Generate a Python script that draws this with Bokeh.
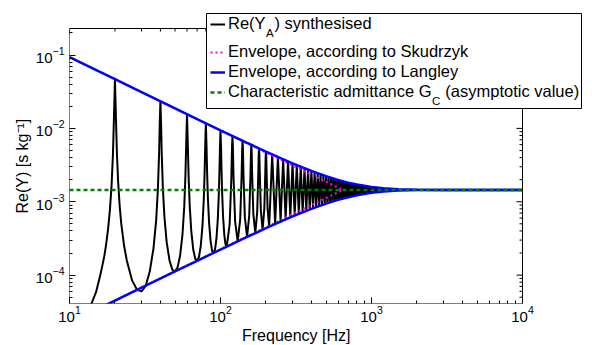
import math
from bokeh.plotting import figure
from bokeh.models import (Range1d, FixedTicker, Legend, LegendItem, Label, Title, BoxAnnotation)
from bokeh.embed import file_html
from bokeh.resources import INLINE

# ---------------- data ----------------
G_C = 1.45e-3  # characteristic admittance (asymptotic value)

# synthesised Re(Y_A), low-frequency part (resolved resonances)
synth_low_freq = [13, 14, 15, 16, 17, 17.5, 18, 18.5, 19, 19.4, 19.7, 20, 20.3, 20.6, 21, 21.5, 22, 23, 24, 26, 28, 30,
                  32, 34, 36, 37.5, 38.5, 39.2, 39.6, 40, 40.4, 40.8, 41.5, 42.5, 44, 46, 48, 50,
                  52, 54, 56, 57.5, 58.5, 59.2, 60, 60.8, 61.5, 62.5, 64, 66, 68, 70,
                  72, 74, 76, 77.5, 78.5, 79.2, 80, 80.8, 81.5, 82.5, 84, 86, 88, 90,
                  92, 94, 96, 97.5, 98.5, 99.2, 100, 100.8, 101.5, 102.5, 104, 106, 108, 110,
                  115, 118, 119.2, 120, 120.8, 122, 125, 130,
                  135, 138, 139.2, 140, 140.8, 142, 145, 150,
                  155, 158, 159.2, 160, 160.8, 162, 165, 170,
                  175, 178, 179.2, 180, 180.8, 182, 185, 190,
                  195, 198, 199.2, 200, 200.8, 202, 205, 210]
synth_low_re = [3.0e-5, 4.1e-5, 5.9e-5, 1.0e-4, 1.8e-4, 2.67e-4, 4.20e-4, 7.52e-4, 1.685e-3, 4.47e-3, 1.405e-2, 4.677e-2,
                1.422e-2, 4.69e-3, 1.849e-3, 8.69e-4, 5.12e-4, 2.49e-4, 1.555e-4, 8.4e-5, 6.3e-5, 6.0e-5,
                7.2e-5, 1.12e-4, 2.32e-4, 5.63e-4, 1.491e-3, 4.54e-3, 1.154e-2, 2.342e-2, 1.155e-2, 4.65e-3,
                1.591e-3, 6.34e-4, 2.82e-4, 1.568e-4, 1.186e-4, 1.121e-4,
                1.283e-4, 1.835e-4, 3.57e-4, 8.37e-4, 2.097e-3, 5.51e-3, 1.564e-2, 5.56e-3, 2.174e-3, 9.02e-4,
                4.05e-4, 2.23e-4, 1.669e-4, 1.568e-4,
                1.765e-4, 2.49e-4, 4.75e-4, 1.083e-3, 2.546e-3, 5.78e-3, 1.175e-2, 5.78e-3, 2.6e-3, 1.14e-3,
                5.21e-4, 2.875e-4, 2.14e-4, 2.01e-4,
                2.236e-4, 3.13e-4, 5.87e-4, 1.295e-3, 2.846e-3, 5.67e-3, 9.43e-3, 5.65e-3, 2.878e-3, 1.342e-3,
                6.29e-4, 3.5e-4, 2.6e-4, 2.45e-4,
                4.96e-4, 2.103e-3, 5.50e-3, 7.885e-3, 5.47e-3, 2.139e-3, 5.36e-4, 2.883e-4,
                5.74e-4, 2.262e-3, 5.18e-3, 6.786e-3, 5.15e-3, 2.289e-3, 6.12e-4, 3.31e-4,
                6.49e-4, 2.375e-3, 4.86e-3, 5.966e-3, 4.84e-3, 2.393e-3, 6.85e-4, 3.735e-4,
                7.19e-4, 2.449e-3, 4.56e-3, 5.33e-3, 4.54e-3, 2.461e-3, 7.53e-4, 4.15e-4,
                7.86e-4, 2.49e-3, 4.25e-3, 4.826e-3, 4.24e-3, 2.49e-3, 8.13e-4, 4.56e-4]

# dense part: resonance peaks and anti-resonance troughs
peak_freq = [220, 240, 260, 280, 300, 320, 340, 360, 380, 400, 420, 440, 460, 480, 500, 520, 540, 560, 580, 600,
             620, 640, 660, 680, 700, 720, 740, 760, 780, 800, 820, 840, 860, 880, 900, 920, 940, 960, 980, 1000,
             1020, 1040, 1060, 1080, 1100, 1120, 1140, 1160, 1180, 1200, 1220, 1240, 1260, 1280, 1300, 1320,
             1340, 1360, 1380, 1400, 1420, 1440, 1460, 1480, 1500, 1520, 1540, 1560, 1580]
peak_re = [4.415e-3, 4.076e-3, 3.791e-3, 3.548e-3, 3.339e-3, 3.159e-3, 3.001e-3, 2.863e-3, 2.740e-3, 2.631e-3,
           2.534e-3, 2.446e-3, 2.367e-3, 2.296e-3, 2.231e-3, 2.173e-3, 2.119e-3, 2.070e-3, 2.026e-3, 1.985e-3,
           1.947e-3, 1.912e-3, 1.880e-3, 1.851e-3, 1.824e-3, 1.799e-3, 1.775e-3, 1.754e-3, 1.734e-3, 1.715e-3,
           1.698e-3, 1.682e-3, 1.667e-3, 1.653e-3, 1.640e-3, 1.628e-3, 1.616e-3, 1.606e-3, 1.596e-3, 1.587e-3,
           1.578e-3, 1.570e-3, 1.563e-3, 1.556e-3, 1.549e-3, 1.543e-3, 1.537e-3, 1.532e-3, 1.527e-3, 1.522e-3,
           1.518e-3, 1.513e-3, 1.510e-3, 1.506e-3, 1.502e-3, 1.499e-3, 1.496e-3, 1.4935e-3, 1.491e-3, 1.488e-3,
           1.486e-3, 1.484e-3, 1.482e-3, 1.480e-3, 1.478e-3, 1.476e-3, 1.475e-3, 1.473e-3, 1.472e-3]
trough_freq = [230, 250, 270, 290, 310, 330, 350, 370, 390, 410, 430, 450, 470, 490, 510, 530, 550, 570, 590, 610,
               630, 650, 670, 690, 710, 730, 750, 770, 790, 810, 830, 850, 870, 890, 910, 930, 950, 970, 990, 1010,
               1030, 1050, 1070, 1090, 1110, 1130, 1150, 1170, 1190, 1210, 1230, 1250, 1270, 1290, 1310, 1330,
               1350, 1370, 1390, 1410, 1430, 1450, 1470, 1490, 1510, 1530, 1550, 1570, 1590]
trough_re = [4.96e-4, 5.35e-4, 5.74e-4, 6.11e-4, 6.48e-4, 6.83e-4, 7.17e-4, 7.51e-4, 7.83e-4, 8.15e-4,
             8.45e-4, 8.74e-4, 9.02e-4, 9.29e-4, 9.55e-4, 9.80e-4, 1.004e-3, 1.027e-3, 1.049e-3, 1.070e-3,
             1.090e-3, 1.109e-3, 1.127e-3, 1.144e-3, 1.161e-3, 1.177e-3, 1.192e-3, 1.206e-3, 1.219e-3, 1.232e-3,
             1.244e-3, 1.256e-3, 1.267e-3, 1.277e-3, 1.287e-3, 1.296e-3, 1.305e-3, 1.313e-3, 1.321e-3, 1.329e-3,
             1.336e-3, 1.342e-3, 1.349e-3, 1.354e-3, 1.360e-3, 1.365e-3, 1.370e-3, 1.375e-3, 1.379e-3, 1.383e-3,
             1.387e-3, 1.391e-3, 1.3945e-3, 1.398e-3, 1.401e-3, 1.404e-3, 1.4065e-3, 1.409e-3, 1.4114e-3, 1.414e-3,
             1.416e-3, 1.418e-3, 1.420e-3, 1.422e-3, 1.423e-3, 1.425e-3, 1.4265e-3, 1.428e-3, 1.429e-3]
tail_freq = [1600, 10000]
tail_re = [1.45e-3, 1.45e-3]

# Envelope according to Langley
langley_freq = [10, 20, 30, 50, 70, 100, 150, 200, 250, 300, 350, 400, 500, 600, 700, 800, 1000, 1200, 1500,
                2000, 3000, 10000]
langley_upper = [0.09356, 0.04679, 0.03121, 0.01875, 0.01342, 9.43e-3, 6.35e-3, 4.826e-3, 3.928e-3, 3.339e-3,
                 2.930e-3, 2.631e-3, 2.231e-3, 1.985e-3, 1.824e-3, 1.715e-3, 1.587e-3, 1.522e-3, 1.478e-3,
                 1.4559e-3, 1.4503e-3, 1.45e-3]
langley_lower = [2.2475e-5, 4.494e-5, 6.738e-5, 1.121e-4, 1.567e-4, 2.23e-4, 3.31e-4, 4.357e-4, 5.35e-4, 6.30e-4,
                 7.17e-4, 7.99e-4, 9.42e-4, 1.059e-3, 1.153e-3, 1.226e-3, 1.325e-3, 1.381e-3, 1.4226e-3,
                 1.4441e-3, 1.4497e-3, 1.45e-3]

# Envelope according to Skudrzyk (straight lines meeting G_C)
skud_freq = [10, 645]
skud_upper = [0.0935, 1.45e-3]
skud_lower = [2.25e-5, 1.45e-3]

gc_freq = [10, 10000]
gc_re = [G_C, G_C]

# axes limits and ticks
x_lim = (10, 1e4)
y_lim = (4.1e-5, 0.23)
x_ticks = [10, 100, 1000, 10000]
y_ticks = [1e-4, 1e-3, 1e-2, 1e-1]
x_minor = [m * 10 ** k for k in range(1, 4) for m in range(2, 10)]
y_minor = [m * 10.0 ** k for k in range(-5, 0) for m in range(2, 10) if y_lim[0] <= m * 10.0 ** k <= y_lim[1]]

# interleave peaks and troughs of the dense part
synth_freq = list(synth_low_freq)
synth_re = list(synth_low_re)
for pf, pv, tf, tv in zip(peak_freq, peak_re, trough_freq, trough_re):
    synth_freq += [pf, tf]
    synth_re += [pv, tv]
synth_freq += tail_freq
synth_re += tail_re

FONT = "Liberation Sans"

# ---------------- layout ----------------
# visible axes box (canvas px): x 69..522, y 28..303.  The plot frame is enlarged up/right so
# that the legend, which overhangs the box in the original, is not clipped.
BL, BR, BT, BB = 69, 522, 28, 303
W, H = 592, 345
FR, FT = 583, 2
px_dec_x = (BR - BL) / math.log10(x_lim[1] / x_lim[0])
px_dec_y = (BB - BT) / math.log10(y_lim[1] / y_lim[0])
x_max = x_lim[1] * 10 ** ((FR - BR) / px_dec_x)
y_max = y_lim[1] * 10 ** ((BT - FT) / px_dec_y)

p = figure(width=W, height=H, x_axis_type="log", y_axis_type="log",
           x_range=Range1d(x_lim[0], x_max), y_range=Range1d(y_lim[0], y_max),
           output_backend="svg", toolbar_location=None,
           min_border_left=BL, min_border_right=W - FR, min_border_top=FT, min_border_bottom=H - BB)
p.grid.visible = False
p.outline_line_color = None
p.background_fill_color = "white"
p.border_fill_color = "white"

r_syn = p.line(synth_freq, synth_re, line_color="black", line_width=2)
r_sk1 = p.line(skud_freq, skud_upper, line_color="#ff00ff", line_width=2, line_dash="2 3")
r_sk2 = p.line(skud_freq, skud_lower, line_color="#ff00ff", line_width=2, line_dash="2 3")
r_la1 = p.line(langley_freq, langley_upper, line_color="#0000ff", line_width=2.5)
r_la2 = p.line(langley_freq, langley_lower, line_color="#0000ff", line_width=2.5)
r_gc = p.line(gc_freq, gc_re, line_color="#008000", line_width=2.5, line_dash="4 3")

# axes box with inward ticks on the top and right edges
p.quad(left=[x_lim[0]], right=[x_lim[1]], bottom=[y_lim[0]], top=[y_lim[1]],
       fill_color=None, line_color="black", line_width=1)
for ticks, ln in ((y_ticks, 6), (y_minor, 3)):
    p.segment(x0=[x_lim[1]] * len(ticks), x1=[x_lim[1] / 10 ** (ln / px_dec_x)] * len(ticks),
              y0=ticks, y1=ticks, line_color="black", line_width=1)
for ticks, ln in ((x_ticks, 6), (x_minor, 3)):
    p.segment(x0=ticks, x1=ticks, y0=[y_lim[1]] * len(ticks),
              y1=[y_lim[1] / 10 ** (ln / px_dec_y)] * len(ticks), line_color="black", line_width=1)


def style_axis(ax, ticks, minor, bounds):
    ax.ticker = FixedTicker(ticks=ticks, minor_ticks=minor)
    ax.bounds = bounds
    ax.major_tick_in = 6
    ax.major_tick_out = 0
    ax.minor_tick_in = 3
    ax.minor_tick_out = 0
    ax.axis_line_color = None
    ax.major_tick_line_color = "black"
    ax.minor_tick_line_color = "black"
    ax.major_label_text_font = FONT
    ax.major_label_text_font_size = "15px"
    ax.major_label_text_color = "black"


style_axis(p.xaxis[0], x_ticks, x_minor, x_lim)
style_axis(p.yaxis[0], y_ticks, y_minor, y_lim)
p.xaxis[0].major_label_standoff = 2
p.yaxis[0].major_label_standoff = 5

# axis labels as side titles, centred on the axes box (left-aligned with a pixel offset)
XLAB_W = 108   # rendered width of "Frequency [Hz]" (px)
YLAB_W = 95    # rendered length of "Re(Y) [s kg⁻¹]" (px)
p.add_layout(Title(text="Frequency [Hz]", align="left", offset=(BR - BL) / 2 - XLAB_W / 2,
                   text_font=FONT, text_font_size="16px", text_font_style="normal",
                   text_color="black", standoff=0), "below")
p.add_layout(Title(text="Re(Y) [s kg⁻¹]", align="left", offset=(BB - BT) / 2 - YLAB_W / 2,
                   text_font=FONT, text_font_size="16px", text_font_style="normal",
                   text_color="black", standoff=4), "left")

# legend box (overhangs the axes box at the top right), one legend per row
LEG_L, LEG_T, LEG_R, LEG_B = 206, 13, 581, 108
p.add_layout(BoxAnnotation(left=LEG_L - BL, right=LEG_R - BL, top=BB - LEG_T, bottom=BB - LEG_B,
                           left_units="screen", right_units="screen", top_units="screen",
                           bottom_units="screen", fill_color="white", fill_alpha=1,
                           line_color="black", line_width=1, line_alpha=1))

row_labels = ["Re(Y  ) synthesised", "Envelope, according to Skudrzyk", "Envelope, according to Langley",
              "Characteristic admittance G   (asymptotic value)"]
row_renderers = [r_syn, r_sk1, r_la1, r_gc]
row_centres = [24, 52, 72, 92]  # canvas y of each row
GW, STAND, ROWH = 15, 3, 18
for lab, rend, cy in zip(row_labels, row_renderers, row_centres):
    lg = Legend(items=[LegendItem(label=lab, renderers=[rend])],
                location=(LEG_L + 4 - BL, BB - (cy + ROWH // 2)))
    lg.label_text_font = FONT
    lg.label_text_font_size = "16.5px"
    lg.label_text_color = "black"
    lg.glyph_width = GW
    lg.glyph_height = ROWH
    lg.label_height = ROWH
    lg.label_standoff = STAND
    lg.padding = 0
    lg.margin = 0
    lg.spacing = 0
    lg.border_line_color = None
    lg.background_fill_alpha = 0
    p.add_layout(lg)

text_x = LEG_L + 4 + GW + STAND - BL
p.add_layout(Label(x=text_x + 37.6, y=BB - 32, x_units="screen", y_units="screen", text="A",
                   text_font=FONT, text_font_size="11.5px", text_baseline="middle", text_color="black"))
p.add_layout(Label(x=text_x + 203.6, y=BB - 100, x_units="screen", y_units="screen", text="C",
                   text_font=FONT, text_font_size="11.5px", text_baseline="middle", text_color="black"))

open("out.html", "w").write(file_html(p, INLINE))
